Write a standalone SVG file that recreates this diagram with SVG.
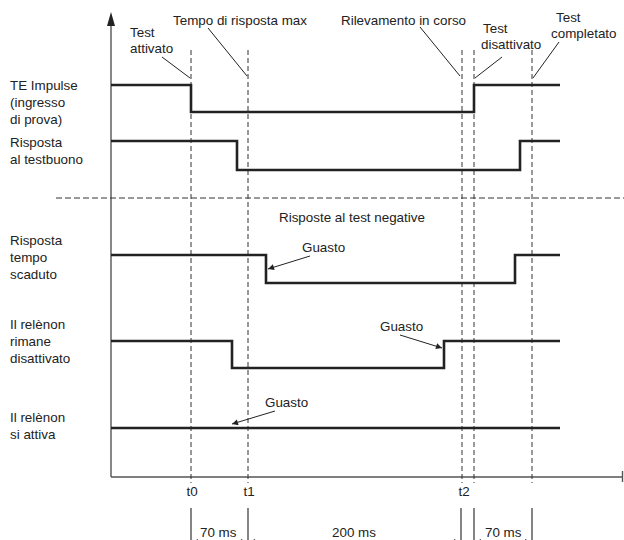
<svg xmlns="http://www.w3.org/2000/svg" width="624" height="540" viewBox="0 0 624 540">
<style>
text{font-family:"Liberation Sans",Arial,sans-serif;font-size:13.4px;fill:#222}
.ax{stroke:#555;stroke-width:1.4;fill:none}
.sig{stroke:#222;stroke-width:2.6;fill:none;stroke-linejoin:miter}
.dv{stroke:#333;stroke-width:1;stroke-dasharray:5 3;fill:none}
.dh{stroke:#333;stroke-width:1;stroke-dasharray:6 3;fill:none}
.ld{stroke:#222;stroke-width:1;fill:none}
.ar{stroke:#222;stroke-width:1;fill:none;marker-end:url(#ah)}
.dim{stroke:#333;stroke-width:1;fill:none;marker-start:url(#da);marker-end:url(#da)}
.tk{stroke:#333;stroke-width:1.2;fill:none}
</style>
<defs>
<marker id="ah" viewBox="0 0 10 10" refX="10" refY="5" markerWidth="9" markerHeight="6" markerUnits="userSpaceOnUse" orient="auto"><path d="M0,0 L10,5 L0,10 z" fill="#222"/></marker>
<marker id="da" viewBox="0 0 10 10" refX="10" refY="5" markerWidth="9" markerHeight="6" markerUnits="userSpaceOnUse" orient="auto-start-reverse"><path d="M0,0 L10,5 L0,10 z" fill="#333"/></marker>
</defs>
<g id="axes">
<line class="ax" x1="111" y1="24" x2="111" y2="477"/>
<path d="M111,12 L115,26 L107,26 z" fill="#222"/>
<line class="ax" x1="111" y1="477" x2="623" y2="477"/>
<line class="ax" x1="622.5" y1="471" x2="622.5" y2="482"/>
</g>
<g id="guides">
<line class="dv" x1="191" y1="50" x2="191" y2="483"/>
<line class="dv" x1="248" y1="50" x2="248" y2="483"/>
<line class="dv" x1="462" y1="50" x2="462" y2="483"/>
<line class="dv" x1="474" y1="50" x2="474" y2="483"/>
<line class="dv" x1="532" y1="50" x2="532" y2="483"/>
<line class="dh" x1="56" y1="198" x2="624" y2="198"/>
</g>
<g id="signal-te-impulse">
<polyline class="sig" points="111,85 191,85 191,112 474,112 474,85 560,85"/>
<text x="10" y="90">TE Impulse</text>
<text x="10" y="107">(ingresso</text>
<text x="10" y="124">di prova)</text>
</g>
<g id="signal-risposta-buono">
<polyline class="sig" points="111,141 237,141 237,170 520,170 520,141 560,141"/>
<text x="10" y="147">Risposta</text>
<text x="10" y="164">al testbuono</text>
</g>
<g id="label-negative">
<text x="279" y="222">Risposte al test negative</text>
</g>
<g id="signal-tempo-scaduto">
<polyline class="sig" points="111,255 266,255 266,283 515,283 515,255 560,255"/>
<text x="10" y="245">Risposta</text>
<text x="10" y="262">tempo</text>
<text x="10" y="279">scaduto</text>
<text x="302" y="252">Guasto</text>
</g>
<g id="signal-non-disattivato">
<polyline class="sig" points="111,341 232,341 232,368 444,368 444,341 560,341"/>
<text x="10" y="329">Il relènon</text>
<text x="10" y="346">rimane</text>
<text x="10" y="363">disattivato</text>
<text x="380" y="331">Guasto</text>
</g>
<g id="signal-non-attiva">
<line class="sig" x1="111" y1="428" x2="560" y2="428"/>
<text x="10" y="422">Il relènon</text>
<text x="10" y="439">si attiva</text>
<text x="265" y="407">Guasto</text>
</g>
<g id="top-labels">
<text x="130" y="37">Test</text>
<text x="130" y="53">attivato</text>
<text x="173" y="25">Tempo di risposta max</text>
<text x="341" y="25">Rilevamento in corso</text>
<text x="483" y="33">Test</text>
<text x="481" y="49">disattivato</text>
<text x="556" y="22">Test</text>
<text x="551" y="38">completato</text>
</g>
<g id="time-labels">
<text x="192" y="496" text-anchor="middle">t0</text>
<text x="249" y="496" text-anchor="middle">t1</text>
<text x="464" y="496" text-anchor="middle">t2</text>
<text x="200" y="537">70 ms</text>
<text x="332" y="537">200 ms</text>
<text x="485" y="537">70 ms</text>
</g>
<g id="connectors">
<line class="ld" x1="162" y1="57" x2="190" y2="78"/>
<line class="ld" x1="208" y1="28" x2="247" y2="76"/>
<line class="ld" x1="420" y1="27" x2="460" y2="76"/>
<line class="ld" x1="502" y1="57" x2="475" y2="78"/>
<line class="ld" x1="559" y1="42" x2="533" y2="78"/>
<line class="ar" x1="310" y1="256" x2="268" y2="269"/>
<line class="ar" x1="400" y1="335" x2="442" y2="348"/>
<line class="ar" x1="275" y1="411" x2="232" y2="424"/>
<line class="tk" x1="191" y1="508" x2="191" y2="540"/>
<line class="tk" x1="248" y1="508" x2="248" y2="540"/>
<line class="tk" x1="461" y1="508" x2="461" y2="540"/>
<line class="tk" x1="474" y1="508" x2="474" y2="540"/>
<line class="tk" x1="532" y1="508" x2="532" y2="540"/>
<line class="dim" x1="192" y1="542" x2="247" y2="542"/>
<line class="dim" x1="249" y1="542" x2="460" y2="542"/>
<line class="dim" x1="475" y1="542" x2="531" y2="542"/>
</g>
</svg>
